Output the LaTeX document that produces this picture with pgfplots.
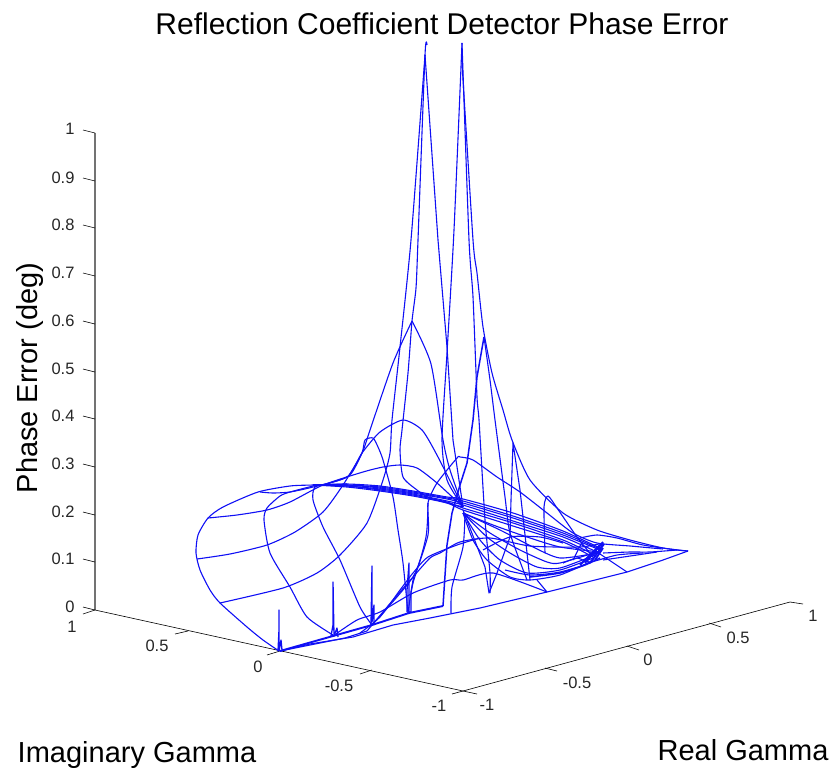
\documentclass[border=0pt]{standalone}
\usepackage{pgfplots}
\pgfplotsset{compat=1.18}
\usepackage{fontspec}
\setmainfont{Liberation Sans}
\definecolor{wire}{RGB}{15,15,245}
\tikzset{
  wl/.style={wire,line width=1.1pt,line join=round,smooth,tension=0.4},
  ws/.style={wire,line width=1.1pt,line join=round},
  wt/.style={wire,line width=1.9pt,line join=round},
  ax/.style={black,line width=0.6pt},
  lab/.style={font=\fontsize{16.5}{18}\selectfont,text=black!85},
  big/.style={font=\fontsize{29}{32}\selectfont,text=black}}
\begin{document}
\begin{tikzpicture}[x=1pt,y=1pt]
\useasboundingbox (0,0) rectangle (834,773);
\begin{axis}[at={(0,0)},anchor=south west,scale only axis,width=834pt,height=773pt,
  xmin=0,xmax=834,ymin=0,ymax=773,y dir=reverse,hide axis,clip=false]
% --- axes box lines
\addplot[color=black!55,line width=1.3pt] coordinates {(95,133)(95,610)};
\addplot[ax] coordinates {(95,610)(463,691)(790,602)};
% z ticks
\addplot[ax] coordinates {(83,130)(95,133)};
\addplot[ax] coordinates {(83,178)(95,181)};
\addplot[ax] coordinates {(83,225)(95,228)};
\addplot[ax] coordinates {(83,273)(95,276)};
\addplot[ax] coordinates {(83,321)(95,324)};
\addplot[ax] coordinates {(83,369)(95,372)};
\addplot[ax] coordinates {(83,416)(95,419)};
\addplot[ax] coordinates {(83,464)(95,467)};
\addplot[ax] coordinates {(83,512)(95,515)};
\addplot[ax] coordinates {(83,559)(95,562)};
\addplot[ax] coordinates {(83,607)(95,610)};
% imag ticks
\addplot[ax] coordinates {(83,614)(95,610)};
\addplot[ax] coordinates {(175,634)(188,631)};
\addplot[ax] coordinates {(267,655)(280,651)};
\addplot[ax] coordinates {(360,674)(372,670)};
\addplot[ax] coordinates {(452,694)(463,691)};
% real ticks
\addplot[ax] coordinates {(463,691)(477,694)};
\addplot[ax] coordinates {(545,668)(557,671)};
\addplot[ax] coordinates {(627,646)(639,650)};
\addplot[ax] coordinates {(709,623)(721,627)};
\addplot[ax] coordinates {(790,602)(803,604)};
% --- wireframe: boundary and front
\addplot[wl] coordinates {(279,651)(263,640)(247,627)(220,603)(210,590)(200,570)(196,553)(198,535)(208,518)(223,507)(258,492)(290,486)(313,485)(347,484)};
\addplot[ws] coordinates {(280,651)(310,644)(353,637)(393,625)(430,618)(480,608)(547,592)(627,572)(663,560)(688,551)};
\addplot[wt] coordinates {(280,651)(333,636)(372,625)(409,613)(443,606)};
\addplot[ws,line width=1.5pt] coordinates {(443,606)(447,545)(452,513)(460,485)(467,463)(473,420)(477,377)(484,337)};
% band
\addplot[wl] coordinates {(313,485)(347,484)(380,486)(413,491)(447,497)(463,499)(513,513)(563,531)(600,548)};
\addplot[wl] coordinates {(313,485)(347,485)(380,487)(413,492)(447,498)(463,501)(513,516)(563,533)(600,549)};
\addplot[wl] coordinates {(313,485)(347,485)(380,488)(413,493)(447,499)(463,503)(513,518)(563,535)(600,550)};
\addplot[wl] coordinates {(313,485)(347,486)(380,489)(413,494)(447,501)(463,505)(513,521)(563,537)(597,552)};
\addplot[wl] coordinates {(313,485)(347,486)(380,490)(413,495)(447,502)(463,508)(513,523)(563,540)(595,555)};
\addplot[wl] coordinates {(313,485)(347,487)(380,491)(413,496)(447,503)(463,510)(513,526)(563,542)(593,557)};
% curves through the peaks
\addplot[wl] coordinates {(462,63)(473,240)(477,273)(483,327)(492,373)(503,410)(512,440)(530,480)(563,513)(597,530)(630,540)(663,548)(688,551)};
\addplot[wl] coordinates {(484,337)(490,380)(495,420)(505,497)(510,533)(527,580)};
\addplot[wl] coordinates {(462,43)(469,240)(473,297)(477,397)(479,420)(485,520)(490,573)(490,593)};
\addplot[ws] coordinates {(463,510)(485,567)(489,593)(497,573)(510,537)(511,500)(513,443)(520,490)(530,580)};
\addplot[wl] coordinates {(545,553)(544,507)(548,496)(557,508)(577,537)(593,557)};
\addplot[wl] coordinates {(408,613)(413,583)(428,535)(428,503)(437,483)(457,458)(460,457)(473,460)(497,477)(520,492)(547,513)(573,533)(597,543)(630,546)(663,549)};
\addplot[wl] coordinates {(372,625)(360,607)(340,560)(323,527)(313,500)(315,487)(330,483)(350,475)(362,453)(365,440)(373,438)(378,447)(383,460)(393,497)(398,530)(403,563)(408,613)};
\addplot[wl] coordinates {(333,635)(307,617)(290,587)(270,553)(264,520)(267,508)(280,496)(290,492)(313,486)};
\addplot[wl] coordinates {(260,492)(273,493)(290,492)(313,487)(347,477)(362,453)(380,432)(403,420)(422,430)(438,457)(463,507)};
\addplot[wl] coordinates {(220,603)(283,588)(317,573)(340,555)(367,523)(383,480)(390,453)(392,420)(400,347)(411,240)(425,55)};
\addplot[wl] coordinates {(197,559)(230,554)(267,545)(295,532)(323,512)(343,485)(362,453)(370,430)(393,363)(412,321)};
\addplot[wl] coordinates {(412,321)(431,364)(443,440)(450,470)(463,507)};
\addplot[wl] coordinates {(427,45)(425,55)(418,240)(416,288)(412,321)(408,373)(402,430)(400,450)(403,477)(417,490)(430,498)(463,507)};
\addplot[wl] coordinates {(208,518)(237,515)(267,510)(290,502)(323,485)(363,472)(383,467)(400,465)(417,468)(437,483)(463,507)};
\addplot[ws] coordinates {(425,55)(438,240)(447,347)(453,440)(463,507)};
\addplot[wl] coordinates {(462,43)(454,230)(447,353)(442,440)(447,480)(463,507)};
\addplot[wl] coordinates {(451,613)(452,587)(463,547)(465,513)};
% lower lines
\addplot[wl] coordinates {(372,625)(393,600)(413,577)(430,558)(440,553)(460,542)(490,538)(530,546)(580,547)(603,543)};
\addplot[wl] coordinates {(333,636)(357,620)(380,612)(413,593)(450,580)(463,580)(493,573)(547,592)};
\addplot[wl] coordinates {(372,625)(413,577)(426,537)(428,503)};
\addplot[wl] coordinates {(360,633)(380,617)(400,590)(413,573)(428,557)(457,545)(480,538)};
\addplot[ws] coordinates {(280,651)(310,645)(345,638)(367,631)(372,625)};
\addplot[ws] coordinates {(597,552)(627,572)};
% spikes
\addplot[ws,line width=1.3pt] coordinates {(278,651)(279,630)(279,610)(279,651)(281,640)(282,650)};
\addplot[ws,line width=1.3pt] coordinates {(331,636)(333,625)(333,582)(334,636)(337,628)(338,637)};
\addplot[ws,line width=1.3pt] coordinates {(371,625)(372,566)(372,622)(374,605)(374,625)};
\addplot[ws,line width=1.3pt] coordinates {(407,612)(407,590)(409,563)(409,612)(411,612)(411,592)(414,575)};
% fan
\addplot[wl] coordinates {(463,513)(473,540)(487,560)(510,577)(530,580)(560,575)(590,562)};
\addplot[wl] coordinates {(463,513)(480,540)(500,560)(527,573)(560,570)(593,558)};
\addplot[wl] coordinates {(463,513)(487,537)(510,553)(537,567)(560,568)(595,555)};
\addplot[wl] coordinates {(463,513)(490,533)(520,550)(547,562)(560,563)(597,552)};
\addplot[wl] coordinates {(463,513)(493,525)(527,537)(560,547)(600,552)};
\addplot[wl] coordinates {(463,513)(500,530)(533,547)(560,558)(597,553)};
\addplot[wl] coordinates {(483,550)(510,537)(540,537)(563,543)};
\addplot[wl] coordinates {(563,563)(577,558)(590,562)(617,555)(643,553)};
\addplot[wl] coordinates {(580,538)(597,535)(617,538)(643,545)(677,550)(688,551)};
\addplot[wl] coordinates {(603,553)(630,552)(650,552)(677,550)};
\addplot[wl] coordinates {(603,560)(637,555)(657,552)};
\addplot[ws] coordinates {(573,560)(582,542)};
\addplot[ws] coordinates {(537,580)(547,592)};
\addplot[wl] coordinates {(505,570)(530,575)(560,572)(590,562)(603,543)};
% wedge at the right
\addplot[wt] coordinates {(603,542)(585,563)};
\addplot[wt] coordinates {(604,544)(590,563)};
\addplot[wt] coordinates {(603,548)(595,560)};
\addplot[wt] coordinates {(600,545)(580,565)};
\addplot[wl,line width=1.5pt] coordinates {(530,577)(560,573)(585,565)(600,558)};
% --- text
\node[font=\fontsize{30}{32}\selectfont] at (axis cs:442,24) {Reflection Coefficient Detector Phase Error};
\node[big,rotate=90] at (axis cs:30,378) {Phase Error (deg)};
\node[big] at (axis cs:137,755) {Imaginary Gamma};
\node[big] at (axis cs:743,750) {Real Gamma};
\node[lab,anchor=east] at (axis cs:78,129) {1};
\node[lab,anchor=east] at (axis cs:78,178) {0.9};
\node[lab,anchor=east] at (axis cs:78,225) {0.8};
\node[lab,anchor=east] at (axis cs:78,273) {0.7};
\node[lab,anchor=east] at (axis cs:78,321) {0.6};
\node[lab,anchor=east] at (axis cs:78,369) {0.5};
\node[lab,anchor=east] at (axis cs:78,416) {0.4};
\node[lab,anchor=east] at (axis cs:78,464) {0.3};
\node[lab,anchor=east] at (axis cs:78,512) {0.2};
\node[lab,anchor=east] at (axis cs:78,559) {0.1};
\node[lab,anchor=east] at (axis cs:78,607) {0};
\node[lab] at (axis cs:72,627) {1};
\node[lab] at (axis cs:157,646) {0.5};
\node[lab] at (axis cs:258,667) {0};
\node[lab] at (axis cs:339,686) {-0.5};
\node[lab] at (axis cs:439,706) {-1};
\node[lab] at (axis cs:487,705) {-1};
\node[lab] at (axis cs:577,683) {-0.5};
\node[lab] at (axis cs:648,660) {0};
\node[lab] at (axis cs:738,638) {0.5};
\node[lab] at (axis cs:813,616) {1};
\end{axis}
\end{tikzpicture}
\end{document}
